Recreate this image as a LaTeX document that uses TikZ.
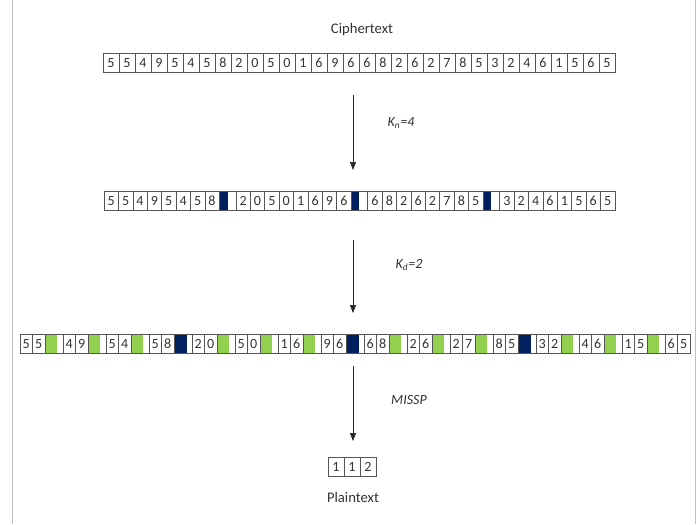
\documentclass[tikz,border=0pt]{standalone}
\usepackage{fontspec}
\setmainfont{Carlito}
\usetikzlibrary{positioning,arrows.meta}
\definecolor{sepblue}{RGB}{0,32,96}
\definecolor{sepgreen}{RGB}{146,208,80}
\definecolor{cellline}{RGB}{85,85,85}

\begin{document}
\begin{tikzpicture}[x=0.03cm, y=-0.03cm,
    cell/.style={rectangle, draw=cellline, line width=0.5pt, inner sep=0pt, outer sep=0pt, minimum height=0.58cm, text=black!80, font=\fontsize{12}{13}\selectfont},
    cellA/.style={cell, minimum width=0.48cm},
    cellB/.style={cell, minimum width=0.432cm},
    cellC/.style={cell, minimum width=0.375cm},
    blueB/.style={cell, minimum width=0.5cm, path picture={\fill[sepblue] (path picture bounding box.north west) rectangle ([xshift=-0.25cm]path picture bounding box.south east);}},
    blueC/.style={cell, minimum width=0.54cm, path picture={\fill[sepblue] (path picture bounding box.north west) rectangle ([xshift=-0.16cm]path picture bounding box.south east);}},
    greenC/.style={cell, minimum width=0.54cm, path picture={\fill[sepgreen] (path picture bounding box.north west) rectangle ([xshift=-0.19cm]path picture bounding box.south east);}},
    title/.style={text=black!80, font=\fontsize{12.5}{14}\selectfont},
    keylabel/.style={text=black!80, font=\fontsize{12}{14}\selectfont\itshape},
    arrow/.style={draw=black!85, line width=0.6pt, -{Triangle[length=2.4mm,width=1.8mm]}}]

    \useasboundingbox (0,0) rectangle (700,524);
    \draw[black!25] (12,0) -- (12,524);
    \draw[black!25] (695,0) -- (695,524);

    \node[title] (cipher) at (362,30) {Ciphertext};

    \coordinate (a0) at (103,63);
    \foreach \d [count=\i] in {5,5,4,9,5,4,5,8,2,0,5,0,1,6,9,6,6,8,2,6,2,7,8,5,3,2,4,6,1,5,6,5} {
        \pgfmathtruncatemacro\j{\i-1}
        \node[cellA, right=0pt of a\j] (a\i) {\d};
    }

    \coordinate (b0) at (104,201);
    \foreach \d [count=\i] in {5,5,4,9,5,4,5,8,b,2,0,5,0,1,6,9,6,b,6,8,2,6,2,7,8,5,b,3,2,4,6,1,5,6,5} {
        \pgfmathtruncatemacro\j{\i-1}
        \if b\d \node[blueB, right=0pt of b\j] (b\i) {};
        \else \node[cellB, right=0pt of b\j] (b\i) {\d};
        \fi
    }

    \coordinate (c0) at (20,344);
    \foreach \d [count=\i] in {5,5,g,4,9,g,5,4,g,5,8,b,2,0,g,5,0,g,1,6,g,9,6,b,6,8,g,2,6,g,2,7,g,8,5,b,3,2,g,4,6,g,1,5,g,6,5} {
        \pgfmathtruncatemacro\j{\i-1}
        \if g\d \node[greenC, right=0pt of c\j] (c\i) {};
        \else\if b\d \node[blueC, right=0pt of c\j] (c\i) {};
        \else \node[cellC, right=0pt of c\j] (c\i) {\d};
        \fi\fi
    }

    \coordinate (p0) at (328,467);
    \foreach \d [count=\i] in {1,1,2} {
        \pgfmathtruncatemacro\j{\i-1}
        \node[cellA, right=0pt of p\j] (p\i) {\d};
    }
    \node[title] (plain) at (353,497) {Plaintext};

    \coordinate (s1) at (353,95);
    \coordinate (e1) at (353,170);
    \coordinate (s2) at (353,240);
    \coordinate (e2) at (353,313);
    \coordinate (s3) at (353,366);
    \coordinate (e3) at (353,441);

    \draw[arrow] (s1) -- (e1);
    \draw[arrow] (s2) -- (e2);
    \draw[arrow] (s3) -- (e3);
    \node[keylabel] (kn) at (401,123) {K\textsubscript{n}=4};
    \node[keylabel] (kd) at (409,265) {K\textsubscript{d}=2};
    \node[keylabel] (missp) at (409,400) {MISSP};
\end{tikzpicture}
\end{document}
